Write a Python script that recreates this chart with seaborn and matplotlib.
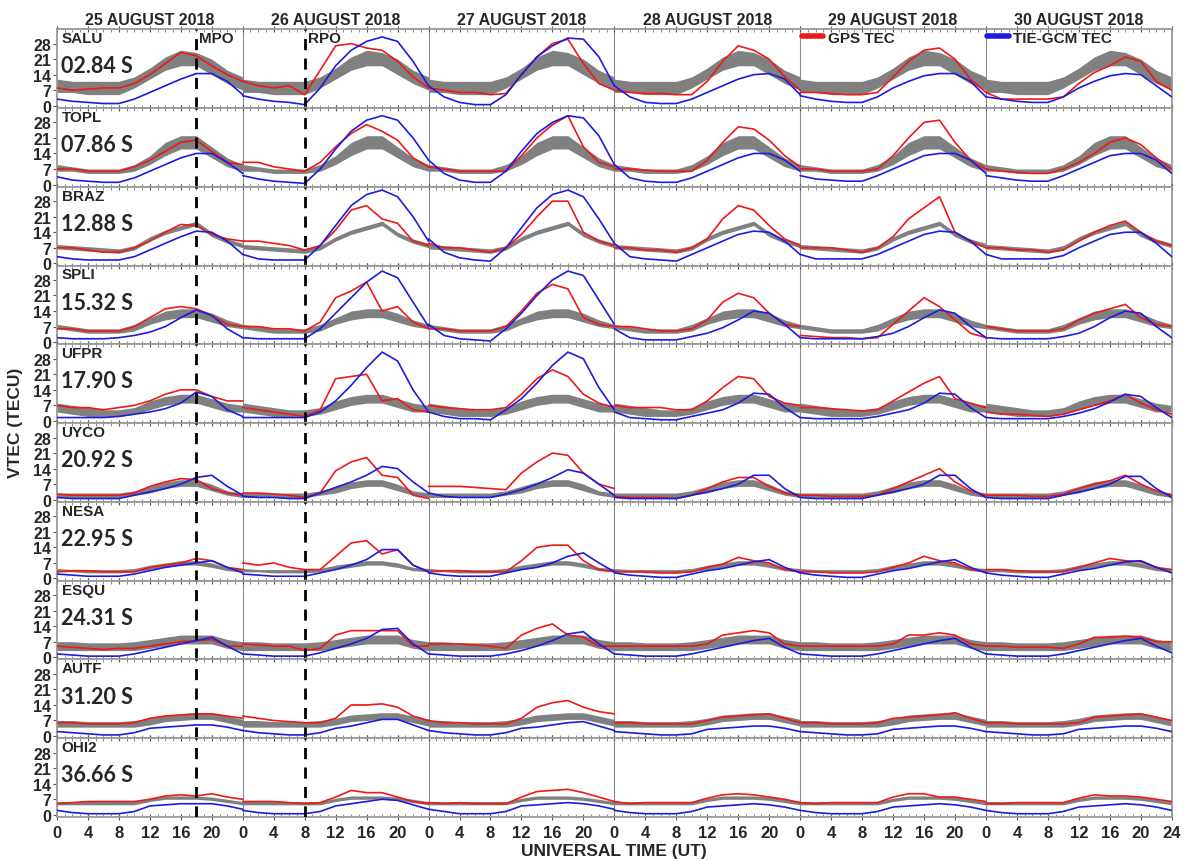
import numpy as np
import pandas as pd
import matplotlib
matplotlib.use("Agg")
import matplotlib.pyplot as plt
import seaborn as sns
from matplotlib.lines import Line2D

days = ["25 AUGUST 2018", "26 AUGUST 2018", "27 AUGUST 2018",
        "28 AUGUST 2018", "29 AUGUST 2018", "30 AUGUST 2018"]
hours = [0, 2, 4, 6, 8, 10, 12, 14, 16, 18, 20, 22, 24]
stations = ["SALU", "TOPL", "BRAZ", "SPLI", "UFPR", "UYCO", "NESA", "ESQU", "AUTF", "OHI2"]
latitudes = ["02.84 S", "07.86 S", "12.88 S", "15.32 S", "17.90 S",
             "20.92 S", "22.95 S", "24.31 S", "31.20 S", "36.66 S"]
mpo_ut = 18   # 25 Aug 18 UT
rpo_ut = 32   # 26 Aug 08 UT
yticks = [0, 7, 14, 21, 28]

# GPS TEC (red), one list per day, every 2 h
salu_gps = [[8, 7, 7.5, 8, 8, 10, 14, 19, 24, 22.5, 18, 14, 11],
            [11, 9, 8, 9, 5, 16, 27, 28, 26, 25, 20, 13, 8],
            [8, 7, 6, 6, 5, 5.5, 14, 22, 28, 30, 19, 10, 7],
            [7, 6, 5.5, 5.5, 5, 5, 11, 20, 27, 25, 21, 13, 7],
            [6, 6, 5.5, 5, 5, 6, 13, 20, 25, 26, 21, 12, 6],
            [6, 3, 3, 3, 3, 4, 10, 15, 18, 22, 20, 11, 7]]
topl_gps = [[7, 7, 6, 6, 6, 8, 11, 15, 19, 20, 15, 10, 9],
            [10, 10, 8, 7, 6, 10, 17, 23, 27, 24, 20, 12, 8],
            [8, 7, 6, 6, 6, 6, 13, 21, 27, 31, 17, 10, 8],
            [7, 7, 6.5, 6, 6, 6, 11, 19, 26, 25, 20, 13, 8],
            [7, 7, 6, 6, 6, 7, 13, 21, 28, 29, 19, 11, 7],
            [7, 6, 5.5, 5, 5, 7, 10, 14, 19, 21, 18, 12, 7]]
braz_gps = [[7, 7, 6, 5, 5, 7, 10, 14, 17.5, 17, 13, 11, 10],
            [10, 10, 9, 8, 6, 8, 15, 24, 26, 20, 18, 10, 8],
            [9, 7, 7, 6, 5, 7, 13, 21, 28, 28, 14, 10, 8],
            [7, 7, 6, 6, 5, 7, 11, 20, 26, 24, 17, 11, 8],
            [7, 7, 7, 6, 5, 7, 12, 20, 25, 30, 14, 10, 7],
            [7, 7, 6, 6, 5, 6, 10, 14, 17, 19, 14, 10, 8]]
spli_gps = [[6, 6, 5, 5, 5, 7, 11, 15, 16, 15, 12, 8, 7],
            [7, 7, 6, 6, 5, 9, 20, 23, 27, 14, 16, 9, 6],
            [6, 6, 5, 5, 5, 7, 14, 22, 26, 24, 11, 8, 7],
            [7, 7, 6, 5, 5, 6, 10, 18, 22, 20, 13, 8, 7],
            [3, 2.5, 2, 2, 1.5, 2, 8, 14, 20, 16, 10, 4, 2],
            [7, 6, 5, 5, 5, 6, 10, 13, 15, 17, 11, 8, 7]]
ufpr_gps = [[7, 6, 6, 5, 6, 7, 9, 12, 14, 14, 11, 9, 9],
            [6, 5, 4, 3, 2, 5, 19, 20, 21, 9, 10, 5, 4],
            [7, 6, 5.5, 5, 5, 6, 12, 19, 23, 20, 12, 8, 6],
            [7, 6, 6, 6, 5, 5, 9, 15, 20, 19, 11, 8, 7],
            [6, 6, 5.5, 5, 4.5, 5, 9, 13, 17, 20, 10, 8, 6],
            [4, 3, 3, 2.5, 2, 3, 5, 7, 9, 12, 8, 5, 3]]
uyco_gps = [[2.5, 2, 2, 2, 2, 3, 6, 8, 9.5, 9, 5, 3, 2],
            [3, 3, 2.5, 2, 1, 3, 13, 17, 19, 11, 10, 2, 0.5],
            [6, 6, 6, 5.5, 5, 4.5, 12, 17, 21, 20, 12, 7, 5],
            [1.5, 1, 1, 1, 0.5, 2, 5, 8, 10, 10, 6, 3, 2],
            [2, 2, 1.5, 1.5, 1.5, 2, 5, 8, 11, 14, 8, 4, 2],
            [2, 2, 2, 1.5, 1.5, 2.5, 5, 7, 8.5, 11, 7, 4, 2]]
nesa_gps = [[3, 3.5, 3.5, 3, 3, 3, 5, 6, 7, 9, 8, 5, 4],
            [7, 6, 7, 5, 4, 4, 10, 16, 17, 11, 13, 6, 3],
            [3, 3.5, 3.5, 3, 3, 3, 8, 14, 15, 15, 8, 4, 3],
            [3, 3, 3, 2.5, 2.5, 3, 5, 6.5, 9.5, 8, 7, 4, 3],
            [3, 3, 2.5, 2.5, 2.5, 3, 5, 7, 10, 8, 7, 4, 3],
            [4, 4, 3.5, 3, 3, 3, 5, 7, 9, 8, 7.5, 5, 4]]
esqu_gps = [[5, 4.5, 4, 3.5, 4, 4, 5, 6, 7, 7.5, 8, 5, 5],
            [6, 5.5, 5, 5, 3, 4, 10, 12, 12, 12, 12, 5, 5],
            [6, 6, 6, 5.5, 5, 4, 10, 13, 15, 10, 9, 5, 5],
            [5, 5, 5, 5, 5, 5, 6, 10, 11, 12, 11, 6, 5],
            [5, 5, 5, 5, 5, 5, 6, 10, 10, 11, 10, 6, 5],
            [5, 5, 4.5, 4.5, 4.5, 4, 6, 9, 9, 9.5, 9, 7, 7]]
autf_gps = [[6, 6, 5.5, 5.5, 5.5, 6, 8, 9, 9.5, 10, 10, 9, 8],
            [9, 8, 7, 6.5, 6, 6, 8, 14, 14, 14.5, 13, 9, 7],
            [7, 6, 6, 5.5, 5.5, 5.5, 8, 13, 15, 16, 13, 11, 10],
            [6, 6, 5.5, 5.5, 5.5, 5.5, 7, 8.5, 9, 9.5, 10, 8, 6],
            [6, 6, 5.5, 5.5, 5.5, 6, 8, 8.5, 9, 9.5, 10.5, 8, 6],
            [6, 6, 5.5, 5.5, 5.5, 5.5, 6, 8.5, 9, 9.5, 10, 8.5, 7]]
ohi2_gps = [[5, 5.5, 6, 6, 6, 6, 7, 8.5, 9, 8.5, 9.5, 8, 7],
            [6, 6, 6, 5.5, 5, 5.5, 8, 11, 10, 10, 8, 6, 5],
            [5.5, 5, 5.5, 5, 5, 5, 8, 10.5, 11, 11.5, 10, 8, 6],
            [6, 5, 5.5, 5.5, 5.5, 5.5, 7.5, 9, 9.5, 9, 8, 7, 5.5],
            [5.5, 5, 5.5, 5.5, 5.5, 5.5, 8, 9.5, 9.5, 8, 8, 7, 6],
            [5, 5, 5.5, 5.5, 5.5, 5.5, 7.5, 9, 8.5, 8.5, 8, 7, 6]]

# TIE-GCM TEC (blue)
salu_gcm = [[3, 2, 1.5, 1, 1, 3, 6, 9, 12, 14.5, 14.5, 11, 5],
            [4.5, 3, 2, 1.5, 0.5, 8, 18, 25, 29, 31, 29, 20, 9],
            [9, 4, 1.5, 0.5, 0.5, 5, 14, 22, 27, 30.5, 30, 22, 9],
            [9, 4, 1.5, 1, 1, 3, 6, 9, 12, 14, 14.5, 12, 5],
            [4.5, 3, 2, 1.5, 1.5, 4, 8, 11, 13.5, 14.5, 14.5, 11, 4],
            [4, 3, 2, 1.5, 1.5, 4, 8, 11, 13.5, 14.5, 14, 9, 4]]
topl_gcm = [[3.5, 2, 1.5, 1, 1, 3, 6, 9, 12, 14, 14, 10, 5],
            [4, 2.5, 1.5, 1, 0.5, 7, 16, 24, 29, 31, 29, 21, 11],
            [11, 5, 2, 1, 1, 6, 15, 23, 28, 31, 30, 22, 9],
            [9, 3, 1.5, 1, 1, 3, 6, 9, 12, 14, 14, 11, 6],
            [4, 2.5, 2, 1.5, 1.5, 4, 7, 10, 13, 14, 14, 11, 5],
            [4, 3, 2, 1.5, 1.5, 4, 7, 10, 13, 14, 14, 11, 5]]
braz_gcm = [[3, 2, 1.5, 1.5, 1.5, 3, 6, 9, 12, 14.5, 14, 10, 4],
            [4, 2, 1.5, 1.5, 1.5, 8, 17, 26, 31, 33, 30, 21, 10],
            [11, 5, 2.5, 1.5, 1, 7, 16, 25, 31, 33, 30, 20, 9],
            [9, 3, 2, 1.5, 1, 4, 7, 10, 13, 14.5, 14, 10, 4],
            [4, 2, 2, 2, 2, 4, 7, 10, 13, 14.5, 14, 10, 4],
            [4, 2, 2, 2, 2, 3.5, 7, 10, 13, 14, 14, 9, 3]]
spli_gcm = [[2, 1.5, 1.5, 1.5, 2, 3, 4.5, 7, 11, 14.5, 12, 6, 2],
            [2, 1.5, 1.5, 1.5, 1.5, 6, 13, 20, 27, 32, 29, 18, 7],
            [8, 3, 1.5, 1, 0.5, 6, 13, 21, 28, 32, 30, 19, 8],
            [6, 2, 1, 1, 1, 2.5, 4, 6.5, 10, 14, 13, 8, 2],
            [2, 1.5, 1.5, 1.5, 1.5, 2.5, 4, 7, 11, 14.5, 13, 7, 2],
            [2, 1.5, 1.5, 1.5, 1.5, 2.5, 4, 7, 11, 14, 13, 7, 2]]
ufpr_gcm = [[1.5, 1.5, 1.5, 1.5, 2, 3, 4, 5.5, 8, 13, 11, 5, 2],
            [1.5, 1.5, 1.5, 1.5, 1.5, 4, 9, 16, 24, 31, 27, 14, 4],
            [4, 2, 1, 1, 0.5, 5, 10, 17, 25, 31, 28, 15, 5],
            [4, 1.5, 1, 0.5, 0.5, 2, 3.5, 5, 8, 12.5, 12, 6, 1.5],
            [1.5, 1, 1, 1, 1, 2, 3.5, 5, 8, 12.5, 12, 6, 1.5],
            [1.5, 1, 1, 1, 1, 2, 3.5, 5.5, 8.5, 12, 11, 6, 1.5]]
uyco_gcm = [[1, 0.5, 0.5, 0.5, 0.5, 2, 3.5, 5, 7, 10, 11, 6, 2],
            [1.5, 1, 1, 0.5, 0.5, 3, 5.5, 8, 11, 15, 14, 8, 3],
            [3, 1.5, 1, 1, 1, 2.5, 4.5, 7, 10, 13.5, 12, 7, 2],
            [1, 0.5, 0.5, 0.5, 0.5, 2, 3.5, 5, 7, 11, 11, 5, 1],
            [1, 0.5, 0.5, 0.5, 0.5, 2, 3.5, 5, 7, 11, 11, 5, 1],
            [1, 0.5, 0.5, 0.5, 0.5, 2, 3.5, 5, 7, 10.5, 10.5, 5, 1]]
nesa_gcm = [[2, 1.5, 1, 1, 1, 2, 3.5, 5, 6, 7, 8, 5, 2.5],
            [2, 1.5, 1, 1, 1, 2.5, 4, 6, 8.5, 13, 13, 6, 3],
            [2.5, 1.5, 1, 1, 1, 2.5, 4, 5, 7, 10, 11.5, 7, 3],
            [2.5, 1.5, 1, 0.5, 0.5, 2, 3.5, 4.5, 6, 7.5, 8.5, 5, 2.5],
            [2.5, 1.5, 1, 0.5, 0.5, 2, 3.5, 4.5, 6, 7.5, 8.5, 5, 2.5],
            [2.5, 1.5, 1, 0.5, 0.5, 2, 3.5, 4.5, 6, 7.5, 8, 5, 2.5]]
esqu_gcm = [[1.5, 1, 0.5, 0.5, 0.5, 1.5, 3, 4.5, 6, 7.5, 9, 5, 1.5],
            [1.5, 1, 0.5, 0.5, 0.5, 2, 4, 6, 8.5, 12.5, 13, 6, 1.5],
            [1.5, 1, 0.5, 0.5, 0.5, 1.5, 3, 5, 7.5, 10.5, 11.5, 6, 1.5],
            [1.5, 1, 0.5, 0.5, 0.5, 1.5, 3, 4.5, 6, 7.5, 8.5, 4.5, 1.5],
            [1.5, 1, 0.5, 0.5, 0.5, 1.5, 3, 4.5, 6, 7.5, 8.5, 4.5, 1.5],
            [1.5, 1, 0.5, 0.5, 0.5, 1.5, 3, 4.5, 6, 7.5, 8.5, 5, 2]]
autf_gcm = [[2, 1.5, 1, 0.5, 0.5, 1.5, 3.5, 4, 4.5, 5, 5, 4, 2.5],
            [2.5, 1.5, 1, 0.5, 0.5, 1.5, 3.5, 4.5, 6, 7.5, 7.5, 5, 2.5],
            [2.5, 1.5, 1, 0.5, 0.5, 1.5, 3.5, 4, 5, 6, 6.5, 4.5, 2.5],
            [2, 1.5, 1, 0.5, 0.5, 1, 3, 3.5, 4, 4.5, 4.5, 3.5, 2],
            [2, 1.5, 1, 0.5, 0.5, 1, 3, 3.5, 4, 4.5, 4.5, 3.5, 2],
            [2, 1.5, 1, 0.5, 0.5, 1, 3, 3.5, 4, 4.5, 4.5, 3.5, 2]]
ohi2_gcm = [[2, 1, 0.5, 0.5, 0.5, 1.5, 4, 4.5, 5, 5, 5, 4, 2.5],
            [2, 1, 0.5, 0.5, 0.5, 1.5, 4, 5, 6, 7, 6.5, 4.5, 2.5],
            [2.5, 1.5, 0.5, 0.5, 0.5, 1.5, 4, 4.5, 5, 5.5, 5, 4, 2.5],
            [2, 1, 0.5, 0.5, 0.5, 1.5, 3.5, 4, 4.5, 5, 4.5, 3.5, 2],
            [2, 1, 0.5, 0.5, 0.5, 1.5, 3.5, 4, 4.5, 5, 4.5, 3.5, 2],
            [2, 1, 0.5, 0.5, 0.5, 1.5, 3.5, 4, 4.5, 5, 4.5, 3.5, 2]]

# quiet-day reference band (gray), daily profile low / high
salu_q_lo = [6, 6, 5, 5, 5, 8, 12, 16, 18, 18, 14, 10, 7]
salu_q_hi = [12, 11, 11, 11, 11, 13, 17, 22, 25, 24, 21, 16, 13]
topl_q_lo = [6, 6, 5, 5, 5, 6, 9, 13, 16, 16, 12, 8, 6]
topl_q_hi = [9, 8, 7, 7, 7, 9, 13, 19, 22, 22, 17, 12, 9]
braz_q_lo = [6.5, 6, 5.5, 5, 4.5, 6, 10, 13, 15, 17, 12, 9, 7]
braz_q_hi = [8.5, 8, 7.5, 7, 6.5, 8, 12, 15, 17, 19, 14, 11, 9]
spli_q_lo = [6, 5, 4, 4, 4, 5, 8, 10, 11, 11, 9, 7, 6]
spli_q_hi = [8, 7, 6, 6, 6, 8, 11, 14, 15, 15, 13, 10, 8]
ufpr_q_lo = [4, 3, 2, 2, 2, 3, 5, 7, 8, 8, 6, 4, 4]
ufpr_q_hi = [8, 7, 6, 5, 5, 6, 9, 11, 12, 12, 10, 8, 7]
uyco_q_lo = [1, 1, 1, 1, 1, 2, 3, 5, 6, 6, 4, 2, 1]
uyco_q_hi = [3, 3, 3, 3, 3, 4, 6, 8, 9, 9, 7, 4, 3]
nesa_q_lo = [3, 3, 2.5, 2.5, 2.5, 3, 4, 5, 6, 6, 5, 3.5, 3]
nesa_q_hi = [4.5, 4, 4, 4, 4, 4.5, 6, 7, 8, 8, 7, 5, 4.5]
esqu_q_lo = [3, 3, 3, 3, 3, 3, 4, 5, 6, 6, 6, 4, 3]
esqu_q_hi = [7, 7, 6.5, 6.5, 6.5, 7, 8, 9, 10, 10, 10, 8, 7]
autf_q_lo = [4, 4, 4, 4, 4, 4, 5, 6.5, 7, 7.5, 7.5, 6, 4.5]
autf_q_hi = [7, 7, 6.5, 6.5, 6.5, 7, 8, 9.5, 10, 10.5, 10.5, 9, 7.5]
ohi2_q_lo = [4.5, 4.5, 4.5, 4.5, 4.5, 4.5, 6, 7, 7, 7, 6.5, 5.5, 4.5]
ohi2_q_hi = [6, 6, 6, 6, 6, 6, 7.5, 8.5, 8.5, 8.5, 8, 7, 6]

gps_all = [salu_gps, topl_gps, braz_gps, spli_gps, ufpr_gps,
           uyco_gps, nesa_gps, esqu_gps, autf_gps, ohi2_gps]
gcm_all = [salu_gcm, topl_gcm, braz_gcm, spli_gcm, ufpr_gcm,
           uyco_gcm, nesa_gcm, esqu_gcm, autf_gcm, ohi2_gcm]
q_lo_all = [salu_q_lo, topl_q_lo, braz_q_lo, spli_q_lo, ufpr_q_lo,
            uyco_q_lo, nesa_q_lo, esqu_q_lo, autf_q_lo, ohi2_q_lo]
q_hi_all = [salu_q_hi, topl_q_hi, braz_q_hi, spli_q_hi, ufpr_q_hi,
            uyco_q_hi, nesa_q_hi, esqu_q_hi, autf_q_hi, ohi2_q_hi]

rows = []
for s, name in enumerate(stations):
    for d in range(len(days)):
        for k, h in enumerate(hours):
            rows.append({"station": name, "day": d, "ut": 24 * d + h,
                         "gps": gps_all[s][d][k], "gcm": gcm_all[s][d][k],
                         "q_lo": q_lo_all[s][k], "q_hi": q_hi_all[s][k]})
df = pd.DataFrame(rows)

sns.set_style("ticks")
narrow = ["Liberation Sans Narrow", "Liberation Sans", "DejaVu Sans"]
plt.rcParams["font.family"] = narrow

RED = "#f01818"
BLUE = "#1c1ce0"
GRAY = "#808080"
EDGE = "#9a9a9a"

fig, axes = plt.subplots(10, 1, figsize=(11.86, 8.62), dpi=100, sharex=True)
plt.subplots_adjust(left=0.048, right=0.988, top=0.965, bottom=0.051, hspace=0)

for s, ax in enumerate(axes):
    sub = df[df["station"] == stations[s]]
    for d in range(len(days)):
        dd = sub[sub["day"] == d]
        ax.fill_between(dd["ut"], dd["q_lo"], dd["q_hi"], color=GRAY, lw=0, zorder=1)
    sns.lineplot(data=sub, x="ut", y="gps", units="day", estimator=None,
                 color=RED, lw=1.2, ax=ax, legend=False, zorder=3)
    sns.lineplot(data=sub, x="ut", y="gcm", units="day", estimator=None,
                 color=BLUE, lw=1.2, ax=ax, legend=False, zorder=4)
    for d in range(1, len(days)):
        ax.axvline(24 * d, color="#8c8c8c", lw=0.8, zorder=0)
    for xv in (mpo_ut, rpo_ut):
        ax.axvline(xv, color="black", lw=2, ls=(0, (4, 3)), zorder=5)

    ax.set_xlim(0, 144)
    ax.set_ylim(-1, 34.5)
    ax.set_yticks(yticks)
    ax.set_yticklabels([str(v) for v in yticks], fontsize=11.5, fontweight="bold")
    ax.set_xticks(range(0, 145, 4))
    ax.set_xticks(range(0, 145, 1), minor=True)
    ax.tick_params(axis="x", which="major", direction="inout", length=5, top=True,
                   color="#555555")
    ax.tick_params(axis="x", which="minor", direction="in", length=2, top=True,
                   color="#777777")
    ax.tick_params(axis="y", direction="out", length=3, pad=1, color="#555555")
    ax.set_xlabel("")
    ax.set_ylabel("")
    for sp in ax.spines.values():
        sp.set_color(EDGE)
        sp.set_linewidth(1.3)

    ax.text(0.6, 30.5, stations[s], fontsize=11, fontweight="bold",
            va="center", ha="left", family=["Liberation Sans", "DejaVu Sans"])
    ax.text(0.5, 18, latitudes[s], fontsize=15.5, fontweight="bold",
            va="center", ha="left", family=["Lato", "DejaVu Sans"])

bottom = axes[-1]
bottom.set_xticklabels([str(t % 24) if t < 144 else "24" for t in range(0, 145, 4)],
                       fontsize=12, fontweight="bold")

top = axes[0]
for d, label in enumerate(days):
    top.text(24 * d + 12, 35.5, label, ha="center", va="bottom",
             fontsize=11.5, fontweight="bold")
top.text(mpo_ut + 0.4, 30.5, "MPO", fontsize=11, fontweight="bold", va="center")
top.text(rpo_ut + 0.4, 30.5, "RPO", fontsize=11, fontweight="bold", va="center")

leg1 = top.legend(handles=[Line2D([], [], color=RED, lw=4)], labels=["GPS TEC"],
                  loc="upper left", bbox_to_anchor=(4 / 6, 1.0), frameon=False,
                  handlelength=1.4, handletextpad=0.3, borderaxespad=0, borderpad=0.1,
                  prop={"weight": "bold", "size": 11})
top.add_artist(leg1)
top.legend(handles=[Line2D([], [], color=BLUE, lw=4)], labels=["TIE-GCM TEC"],
           loc="upper left", bbox_to_anchor=(5 / 6, 1.0), frameon=False,
           handlelength=1.4, handletextpad=0.3, borderaxespad=0, borderpad=0.1,
           prop={"weight": "bold", "size": 11})

fig.text(0.013, 0.51, "VTEC (TECU)", rotation=90, ha="center", va="center",
         fontsize=12.5, fontweight="bold")
fig.text(0.518, 0.012, "UNIVERSAL TIME (UT)", ha="center", va="center",
         fontsize=12.5, fontweight="bold")

fig.savefig("out.png", dpi=100)
